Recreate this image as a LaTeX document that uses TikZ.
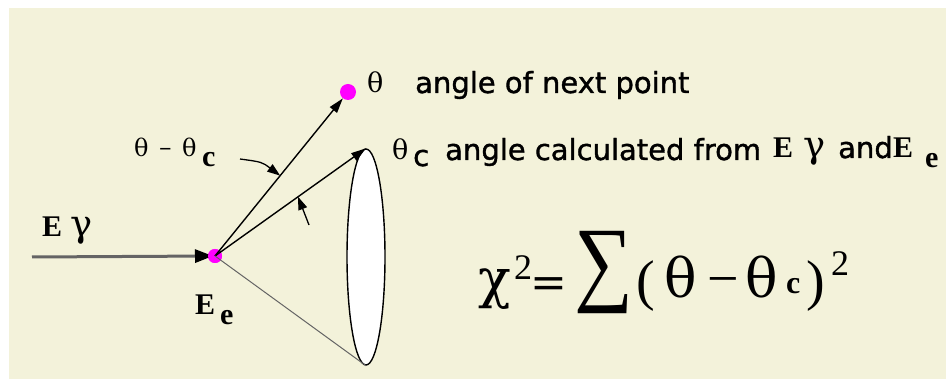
\documentclass[tikz,border=0pt]{standalone}
\usepackage{fontspec}
\usetikzlibrary{arrows.meta,shapes.geometric,calc}
\newfontfamily\dvsans[FakeBold=1.2]{DejaVu Sans}
\newfontfamily\dvserif{DejaVu Serif}
\newfontfamily\lserif{Liberation Serif}
\definecolor{cream}{RGB}{243,242,218}
\definecolor{mag}{RGB}{255,0,255}
\definecolor{beam}{RGB}{100,100,100}
\tikzset{
  dot/.style={circle,fill=mag,inner sep=0pt,minimum size=#1},
  lbl/.style={anchor=base west,inner sep=0pt},
  head/.style={-{Triangle[length=15pt,width=9pt]}},
  smallhead/.style={-{Triangle[length=13pt,width=9pt]}},
  sansbig/.style={lbl,font=\dvsans\fontsize{29}{30}\selectfont},
  greek/.style={lbl,font=\dvserif\fontsize{27}{28}\selectfont},
  boldE/.style={lbl,font=\lserif\bfseries\fontsize{30}{32}\selectfont},
  gam/.style={lbl,font=\dvserif\fontsize{37}{38}\selectfont},
  fgreek/.style={lbl,font=\dvserif\fontsize{54}{56}\selectfont},
  formula/.style={lbl,font=\lserif\fontsize{56}{58}\selectfont},
}
\begin{document}
\begin{tikzpicture}[x=1pt,y=-1pt]
\useasboundingbox (0,0) rectangle (946,379);
\fill[cream] (9,8) rectangle (946,379);

% nodes
\node[dot=14pt] (v) at (215,256) {};
\node[dot=16pt] (t) at (348,92) {};
\node[ellipse,draw,fill=white,line width=1.4pt,minimum width=38pt,minimum height=216pt,inner sep=0pt] (cone) at (366,257) {};
\coordinate (src) at (32,257);

% connectors
\draw[beam,line width=3pt,-{Triangle[length=18pt,width=13pt,color=black]}] (src) -- ($(v.center)+(-2,0)$);
\fill[mag] (v) circle (7pt);
\draw[line width=1.4pt,head] (v.center) -- (t);
\draw[line width=1.4pt,head] (v.center) -- (cone.north);
\draw[beam,line width=1pt] (v.center) -- (cone.south);

% small angle arrows
\coordinate (a1) at ($(v.center)!0.49!(t.center)$);
\coordinate (a1s) at (240,159);
\coordinate (a1c) at (262,162);
\draw[line width=1.3pt,smallhead] (a1s) .. controls (a1c) .. (a1);
\coordinate (a2) at ($(v.center)!0.55!(cone.north)$);
\coordinate (a2s) at (309,225);
\draw[line width=1.3pt,smallhead] (a2s) -- (a2);

% labels: theta line
\node[greek] (th1) at (367,93) {θ};
\node[sansbig] (txt1) at (415,93) {angle of next point};
% theta_c line
\node[greek] (th2) at (392,160) {θ};
\node[sansbig] (c2) at (413,166) {c};
\node[sansbig] (txt2) at (445,160) {angle calculated from};
\node[boldE] (E2) at (773,158) {E};
\node[gam] (g2) at (803,158) {γ};
\node[sansbig] (and2) at (838,158) {and};
\node[boldE] (E3) at (893,158) {E};
\node[boldE] (e3) at (925,168) {e};

% theta - theta_c label
\node[lbl,font=\dvserif\fontsize{24}{25}\selectfont] (d1) at (134,157) {θ};
\node[lbl,font=\lserif\bfseries\fontsize{22}{22}\selectfont] (d2) at (159,157) {−};
\node[lbl,font=\dvserif\fontsize{24}{25}\selectfont] (d3) at (182,157) {θ};
\node[boldE] (d4) at (202,167) {c};

% E gamma, E e
\node[boldE] (Eg) at (42,237) {E};
\node[gam] (gg) at (70,237) {γ};
\node[boldE] (Ee) at (195,315) {E};
\node[boldE] (ee) at (220,325) {e};

% formula
\node[fgreek] (chi) at (478,298) {χ};
\node[lbl,font=\lserif\fontsize{36}{38}\selectfont] (sq1) at (514,280) {2};
\node[lbl,font=\dvserif\fontsize{44}{46}\selectfont] (eq) at (530,298) {=};
\node[lbl,font=\lserif\fontsize{95}{98}\selectfont] (sum) at (574,294) {\scalebox{0.87}[1]{∑}};
\node[formula] (lp) at (636,300) {(};
\node[fgreek] (fth1) at (664,298) {θ};
\node[lbl,font=\lserif\fontsize{56}{58}\selectfont] (fm) at (707,298) {−};
\node[fgreek] (fth2) at (745,298) {θ};
\node[lbl,font=\lserif\bfseries\fontsize{32}{34}\selectfont] (fc) at (786,294) {c};
\node[formula] (rp) at (806,300) {)};
\node[lbl,font=\lserif\fontsize{36}{38}\selectfont] (sq2) at (831,276) {2};
\end{tikzpicture}
\end{document}
